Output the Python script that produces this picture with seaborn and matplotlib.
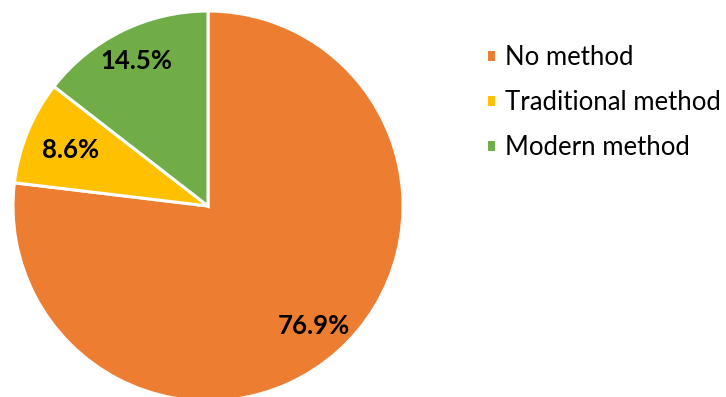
import numpy as np
import matplotlib
matplotlib.use("Agg")
import matplotlib.pyplot as plt
import seaborn as sns

categories = ["No method", "Traditional method", "Modern method"]
values = [76.9, 8.6, 14.5]
labels = ["76.9%", "8.6%", "14.5%"]
colors = ["#ED7D31", "#FFC000", "#70AD47"]
label_dist = [0.82, 0.76, 0.83]

sns.set_theme(style="white")
plt.rcParams['font.family'] = ['Lato', 'DejaVu Sans']
plt.rcParams['text.color'] = 'black'
palette = sns.color_palette(colors)

fig = plt.figure(figsize=(7.26, 3.97), dpi=100)
ax = fig.add_axes([13/726, -4/397, 390/726, 390/397])
wedges, _ = ax.pie(values, colors=palette, startangle=90, counterclock=False,
                   wedgeprops=dict(edgecolor="white", linewidth=2.2))
ax.set_xlim(-1, 1)
ax.set_ylim(-1, 1)
ax.set_aspect("equal")

for w, lab, d in zip(wedges, labels, label_dist):
    ang = np.deg2rad((w.theta1 + w.theta2) / 2)
    ax.text(d * np.cos(ang), d * np.sin(ang), lab, ha="center", va="center",
            fontsize=18.5, fontweight="bold", color="black")

leg = fig.legend(wedges, categories, loc="upper left", bbox_to_anchor=(486/726, 1 - 45/397),
                 frameon=False, fontsize=18.5, handlelength=0.39, handleheight=0.39,
                 handletextpad=0.35, labelspacing=0.78, borderpad=0, borderaxespad=0)
for t in leg.get_texts():
    t.set_color("black")

fig.savefig("out.png", dpi=100)
